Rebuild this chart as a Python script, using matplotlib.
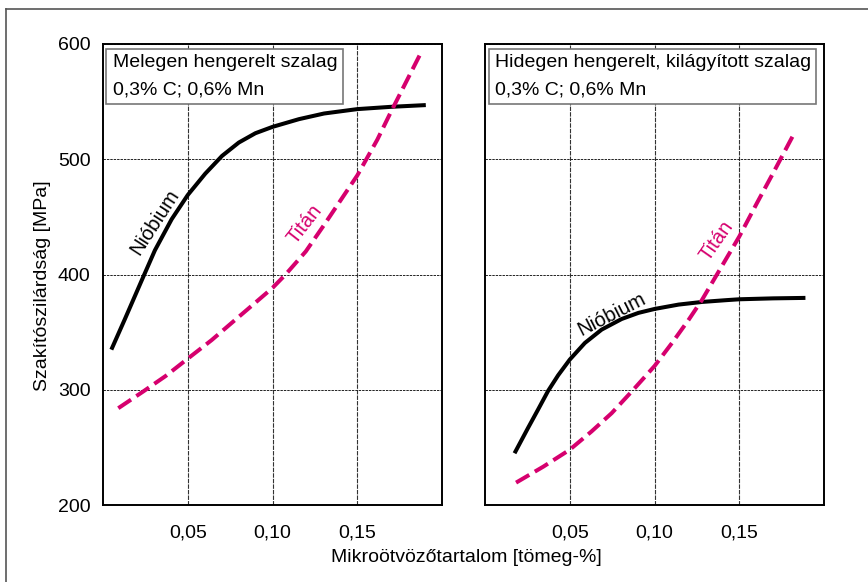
import matplotlib
matplotlib.use("Agg")
import matplotlib.pyplot as plt
from matplotlib.patches import Rectangle
from matplotlib.lines import Line2D
from matplotlib.ticker import FuncFormatter

plt.rcParams['font.family'] = ['Liberation Sans', 'DejaVu Sans']

# data (x: microalloy content [wt-%], y: tensile strength [MPa])
# hot rolled strip
nb_hot_x = [0.0049, 0.0128, 0.0227, 0.0306, 0.0405, 0.050, 0.0603, 0.0702, 0.0801, 0.0899,
            0.100, 0.1156, 0.1304, 0.150, 0.170, 0.1904]
nb_hot_y = [334.8, 361, 394.5, 421, 448, 469, 487.5, 502.9, 514.5, 522.6,
            528.1, 534.8, 539.7, 543.5, 545.5, 547]
ti_hot_x = [0.009, 0.0238, 0.037, 0.050, 0.064, 0.077, 0.089, 0.100, 0.1077, 0.1196,
            0.1304, 0.150, 0.1618, 0.1703, 0.1874]
ti_hot_y = [284, 298.6, 312, 327, 343, 359.4, 374.5, 388.4, 400, 420,
            443, 486, 517, 542.5, 592]

# cold rolled, annealed strip
nb_cold_x = [0.0174, 0.0253, 0.0312, 0.0372, 0.0431, 0.050, 0.0589, 0.0688, 0.0806, 0.0905,
             0.100, 0.1142, 0.1281, 0.1419, 0.150, 0.170, 0.189]
nb_cold_y = [244.9, 266.7, 282.6, 299, 312.5, 326.2, 340.6, 352.2, 361.4, 366.7,
             370.1, 373.9, 376.2, 377.7, 378.5, 379.3, 379.7]
ti_cold_x = [0.0183, 0.0344, 0.050, 0.0628, 0.0747, 0.0866, 0.100, 0.1103, 0.1202, 0.128,
             0.1368, 0.150, 0.1604, 0.1703, 0.1817]
ti_cold_y = [219.4, 233.3, 248, 263.8, 279.7, 298.6, 320.6, 340.6, 360.9, 378,
             400, 433, 462, 489, 520.6]

panel_titles = ["Melegen hengerelt szalag", "Hidegen hengerelt, kilágyított szalag"]
composition = "0,3% C; 0,6% Mn"
x_ticks = [0.05, 0.10, 0.15]
y_ticks = [200, 300, 400, 500, 600]

magenta = '#D6006E'

fig = plt.figure(figsize=(8.68, 5.82), dpi=100)
ax1 = fig.add_axes([0.1187, 0.1323, 0.3906, 0.7921])
ax2 = fig.add_axes([0.5588, 0.1323, 0.3906, 0.7921])

# outer frame (only top and left edges visible)
fig.add_artist(Line2D([6/868, 6/868], [0, 1 - 8.7/582], color='#555555', lw=1.2))
fig.add_artist(Line2D([6/868, 1], [1 - 8.7/582, 1 - 8.7/582], color='#555555', lw=1.2))

fmt = FuncFormatter(lambda v, p: ("%.2f" % v).replace('.', ','))

for ax, title in zip([ax1, ax2], panel_titles):
    ax.set_xlim(0, 0.2)
    ax.set_ylim(200, 600)
    ax.set_xticks(x_ticks)
    ax.set_yticks(y_ticks)
    ax.xaxis.set_major_formatter(fmt)
    ax.tick_params(length=0, labelsize=14)
    ax.tick_params(axis='x', pad=14)
    ax.tick_params(axis='y', pad=9)
    for s in ax.spines.values():
        s.set_linewidth(1.4)
    ax.grid(True, axis='x', color='#333333', lw=0.8, linestyle=(0, (4, 1)))
    ax.grid(True, axis='y', color='#222222', lw=0.7, linestyle=(0, (2.5, 1)))
    ax.set_axisbelow(True)

ax2.set_yticklabels([])

# label boxes
ax1.add_patch(Rectangle((0.008, 0.870), 0.700, 0.119, transform=ax1.transAxes,
                        facecolor='white', edgecolor='#777777', lw=1.2, zorder=3))
ax2.add_patch(Rectangle((0.0118, 0.870), 0.9646, 0.119, transform=ax2.transAxes,
                        facecolor='white', edgecolor='#777777', lw=1.2, zorder=3))
for ax, title, tx in [(ax1, panel_titles[0], 0.0286), (ax2, panel_titles[1], 0.0295)]:
    ax.text(tx, 0.959, title, transform=ax.transAxes, fontsize=14, va='center', ha='left', zorder=4)
    ax.text(tx, 0.900, composition, transform=ax.transAxes, fontsize=14, va='center', ha='left', zorder=4)

# curves
ax1.plot(nb_hot_x, nb_hot_y, color='black', lw=2.9, solid_capstyle='butt', solid_joinstyle='round', zorder=5)
ax1.plot(ti_hot_x, ti_hot_y, color=magenta, lw=2.9, dashes=(3.8, 1.6), zorder=5)
ax2.plot(nb_cold_x, nb_cold_y, color='black', lw=2.9, solid_capstyle='butt', solid_joinstyle='round', zorder=5)
ax2.plot(ti_cold_x, ti_cold_y, color=magenta, lw=2.9, dashes=(3.8, 1.6), zorder=5)

# curve labels
ax1.text(0.0307, 445.5, "Nióbium", rotation=57, fontsize=14.5, ha='center', va='center', rotation_mode='anchor')
ax1.text(0.119, 444, "Titán", rotation=52, fontsize=14.5, color=magenta, ha='center', va='center', rotation_mode='anchor')
ax2.text(0.0748, 365.5, "Nióbium", rotation=27, fontsize=14.5, ha='center', va='center', rotation_mode='anchor')
ax2.text(0.1368, 429, "Titán", rotation=55, fontsize=14.5, color=magenta, ha='center', va='center', rotation_mode='anchor')

fig.text(466/868, 1 - 558/582, "Mikroötvözőtartalom [tömeg-%]", fontsize=14, ha='center', va='center')
fig.text(43/868, 1 - 286/582, "Szakítószilárdság [MPa]", fontsize=14, rotation=90, ha='center', va='center')

fig.savefig('out.png', dpi=100)
